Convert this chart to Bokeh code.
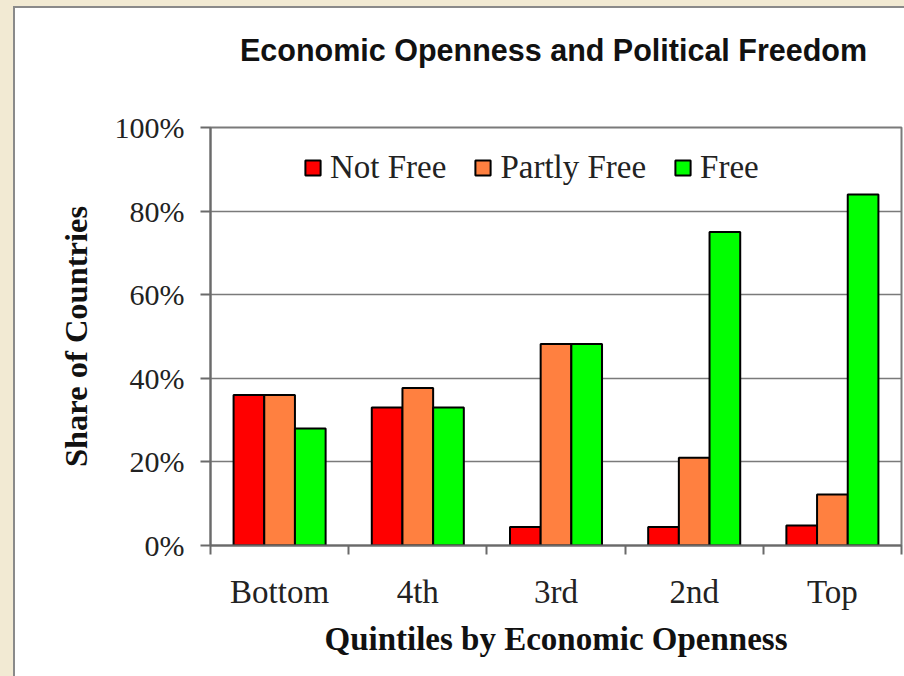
from bokeh.plotting import figure
from bokeh.models import Range1d, FixedTicker, Legend, LegendItem, ColumnDataSource, Div
from bokeh.layouts import column
from bokeh.embed import file_html
from bokeh.resources import INLINE

# ---- data ----
quintiles = ["Bottom", "4th", "3rd", "2nd", "Top"]
not_free = [36, 33, 4.4, 4.4, 4.8]
partly_free = [36, 37.7, 48.2, 21, 12.2]
free = [28, 33, 48.2, 75, 84]
series_names = ["Not Free", "Partly Free", "Free"]
series_colors = ["#FF0000", "#FF8040", "#00FF00"]
y_ticks = [0, 20, 40, 60, 80, 100]
y_tick_labels = ["0%", "20%", "40%", "60%", "80%", "100%"]

title_text = "Economic Openness and Political Freedom"
x_label = "Quintiles by Economic Openness"
y_label = "Share of Countries"

n = len(quintiles)
centers = [i + 0.5 for i in range(n)]
bar_w = 0.222
offsets = [-bar_w, 0.0, bar_w]

W = 889
TITLE_H = 74

title_div = Div(text=title_text, width=W, height=TITLE_H,
                styles={"background-color": "white", "font-family": "Liberation Sans",
                        "font-weight": "bold", "font-size": "30.5px", "color": "#111111",
                        "text-align": "left", "line-height": "74px",
                        "padding-left": "220px", "box-sizing": "border-box"})

p = figure(width=W, height=584, output_backend="svg", toolbar_location=None,
           x_range=Range1d(0, n), y_range=Range1d(0, 100),
           min_border_left=195, min_border_right=3, min_border_top=35,
           min_border_bottom=131)
p.background_fill_color = "white"
p.border_fill_color = "white"
p.outline_line_color = "#7a7a7a"
p.outline_line_width = 2

# bars
renderers = []
for vals, off, col in zip([not_free, partly_free, free], offsets, series_colors):
    src = ColumnDataSource(dict(x=[c + off for c in centers], top=vals))
    r = p.vbar(x="x", top="top", width=bar_w, bottom=0, source=src,
               fill_color=col, line_color="black", line_width=2)
    renderers.append(r)

# legend
legend = Legend(items=[LegendItem(label=nm, renderers=[r]) for nm, r in zip(series_names, renderers)],
                orientation="horizontal", location=(93, 359))
legend.border_line_color = None
legend.background_fill_alpha = 0
legend.padding = 0
legend.margin = 0
legend.spacing = 27
legend.glyph_width = 19
legend.glyph_height = 19
legend.label_standoff = 8
legend.label_text_font = "Liberation Serif"
legend.label_text_font_size = "33px"
legend.label_text_color = "#222222"
p.add_layout(legend, "center")

# grid
p.xgrid.visible = False
p.ygrid.ticker = FixedTicker(ticks=y_ticks)
p.ygrid.grid_line_color = "#7a7a7a"
p.ygrid.grid_line_width = 1.5

# y axis
ya = p.yaxis[0]
ya.ticker = FixedTicker(ticks=y_ticks)
ya.major_label_overrides = {t: l for t, l in zip(y_ticks, y_tick_labels)}
ya.axis_line_color = "#6a6a6a"
ya.axis_line_width = 2
ya.major_tick_line_color = "#6a6a6a"
ya.major_tick_line_width = 2
ya.major_tick_out = 10
ya.major_tick_in = 0
ya.minor_tick_line_color = None
ya.major_label_text_font = "Liberation Serif"
ya.major_label_text_font_size = "30px"
ya.major_label_text_color = "#222222"
ya.major_label_standoff = 16
ya.axis_label = y_label
ya.axis_label_text_font = "Liberation Serif"
ya.axis_label_text_font_style = "bold"
ya.axis_label_text_font_size = "32.5px"
ya.axis_label_text_color = "#111111"
ya.axis_label_standoff = 18

# x axis: category labels at centres, ticks between categories
xa = p.xaxis[0]
xa.ticker = FixedTicker(ticks=centers, minor_ticks=list(range(n + 1)))
xa.major_label_overrides = {c: q for c, q in zip(centers, quintiles)}
xa.axis_line_color = "#6a6a6a"
xa.axis_line_width = 2
xa.major_tick_line_color = None
xa.major_tick_out = 0
xa.major_tick_in = 0
xa.minor_tick_line_color = "#6a6a6a"
xa.minor_tick_line_width = 2
xa.minor_tick_out = 9
xa.minor_tick_in = 0
xa.major_label_text_font = "Liberation Serif"
xa.major_label_text_font_size = "33px"
xa.major_label_text_color = "#222222"
xa.major_label_standoff = 19
xa.axis_label = x_label
xa.axis_label_text_font = "Liberation Serif"
xa.axis_label_text_font_style = "bold"
xa.axis_label_text_font_size = "33px"
xa.axis_label_text_color = "#111111"
xa.axis_label_standoff = 8

layout = column(title_div, p, spacing=0,
                styles={"border-left": "2px solid #8a8a8a", "border-top": "2px solid #8a8a8a",
                        "background-color": "white"})

html = file_html(layout, INLINE)
html = html.replace("</head>",
                    "<style>html, body{background:#F2EAD3;} body{padding:6px 0 0 13px;}</style></head>", 1)
open("out.html", "w").write(html)
